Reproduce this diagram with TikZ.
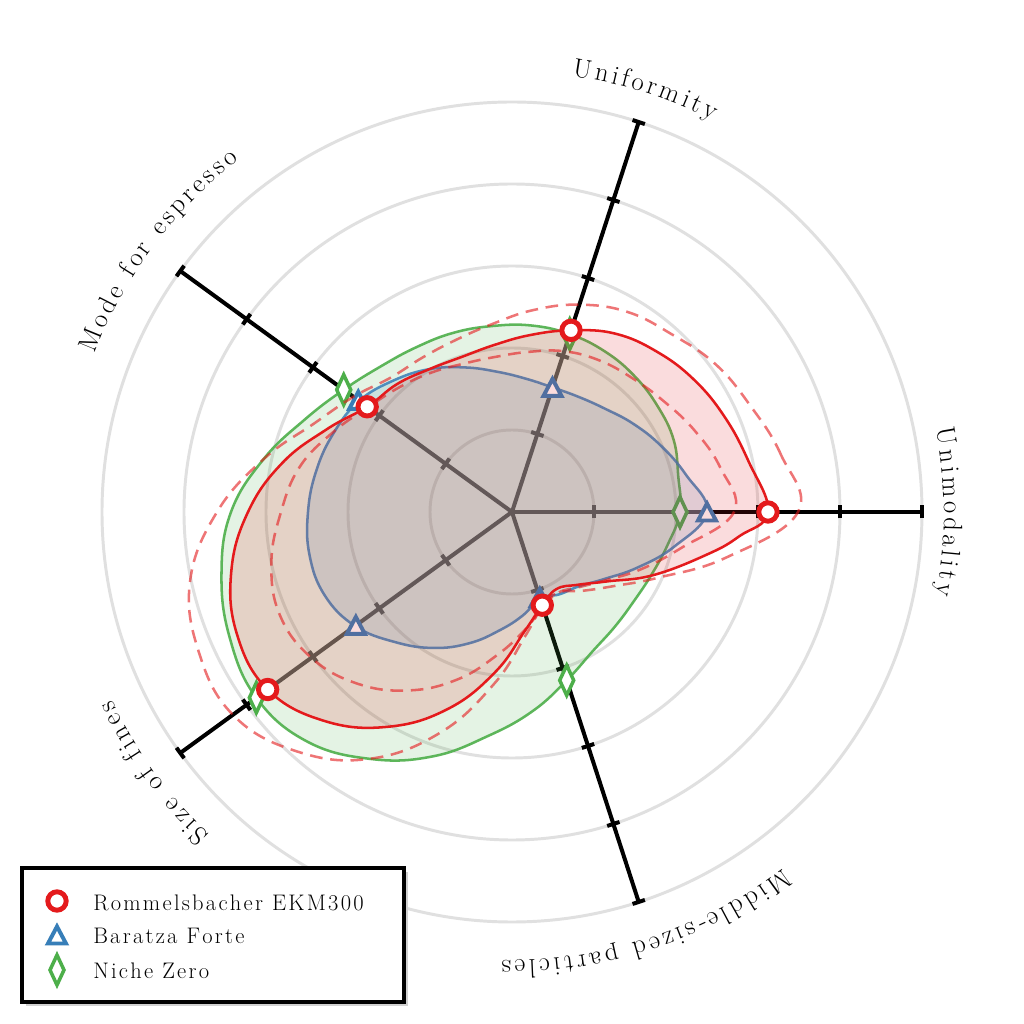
\documentclass[tikz,border=0pt]{standalone}
\usepackage{fontspec}
\definecolor{cred}{HTML}{E41A1C}
\definecolor{cblue}{HTML}{377EB8}
\definecolor{cgreen}{HTML}{4DAF4A}
\definecolor{axgray}{RGB}{82,83,88}
\newcommand\labfont{\fontsize{19}{22}\selectfont}
\newcommand\legfont{\fontsize{16}{19}\selectfont}
\makeatletter
\def\trkamt{1.6pt}
\def\trk#1{\trk@#1\@nil}
\def\trk@#1{\ifx\@nil#1\else#1\kern\trkamt\expandafter\trk@\fi}
\makeatother
\newdimen\arcw
\newdimen\arcpos
\newdimen\arctot
\newcommand\arclabel[5]{% #1 name, #2 centre angle, #3 baseline radius (px), #4 tracking (pt), #5 characters
  \global\arctot=0pt
  \foreach \lch in {#5}{\pgfinterruptpicture\setbox0=\hbox{\labfont\lch}\global\advance\arctot by \wd0\relax\endpgfinterruptpicture\global\advance\arctot by #4pt}%
  \global\advance\arctot by -#4pt
  \global\arcpos=0pt
  \foreach \lch [count=\lnum] in {#5}{%
    \pgfinterruptpicture\setbox0=\hbox{\labfont\lch}\global\arcw=\wd0\relax\endpgfinterruptpicture
    \pgfmathsetmacro\lang{#2+(0.5*\the\arctot-\the\arcpos-0.5*\the\arcw)/(#3*0.711317)*57.29578}%
    \node[font=\labfont, anchor=base, inner sep=0pt, rotate=\lang-90] (#1\lnum) at (\lang:#3) {\lch};%
    \global\advance\arcpos by \arcw
    \global\advance\arcpos by #4pt
  }%
}
\tikzset{
  gridring/.style={draw=black!12, line width=2.1pt},
  axisline/.style={line width=2.85pt},
  curveline/.style={line width=1.8pt},
  bandline/.style={draw=cred, draw opacity=0.6, line width=1.8pt, dash pattern=on 9pt off 5.5pt},
  redmark/.pic={\draw[cred, fill=white, line width=3.5pt] (0,0) circle[radius=9.2];},
  bluemark/.pic={\draw[cblue, fill=white, line width=2.8pt] (0,8.5) -- (-9,-8.5) -- (9,-8.5) -- cycle;},
  greenmark/.pic={\draw[cgreen, fill=white, line width=2.5pt] (0,15) -- (7,0) -- (0,-15) -- (-7,0) -- cycle;},
}
\begin{document}
\begin{tikzpicture}[x=0.25mm,y=0.25mm]
\useasboundingbox (-512,-512) rectangle (512,512);
\fill[white] (-512,-512) rectangle (512,512);
\coordinate (O) at (0,0);
% grid rings
\foreach \r in {82,164,246,328,410} \draw[gridring] (O) circle[radius=\r];
% axes
\foreach \a/\e [count=\i] in {0/195,72/187,144/190,216/302,288/98} {
  \coordinate (ax\i) at (\a:410);
  \coordinate (ex\i) at (\a:\e);
  \draw[axisline, draw=axgray] (O) -- (ex\i);
  \draw[axisline, draw=black] (ex\i) -- (ax\i);
  \foreach \r in {82,164,246,328,410} {
    \ifnum\r<\e\relax\def\tcol{axgray}\else\def\tcol{black}\fi
    \draw[axisline, draw=\tcol, rotate=\a] (\r,-6.5) -- (\r,6.5);
  }
}
% Niche Zero (green)
\path[fill=cgreen, fill opacity=0.15, draw=cgreen, draw opacity=0.9, curveline]
 plot[smooth cycle, tension=0.7] coordinates {(0:168) (12:170) (24:177) (36:180) (48:183) (60:185.5) (72:187) (84:187.5) (96:187) (108:188.5) (120:190.5) (132:196) (144:208) (156:227) (168:254) (180:281) (192:297) (204:309) (216:316) (228:308) (240:285) (252:257) (264:225) (276:200) (288:177) (300:161) (312:154) (324:151) (336:153) (348:159)};
\foreach \p in {(0:168),(72:187),(144:208),(216:316),(288:177)} \pic at \p {greenmark};
% Baratza Forte (blue)
\path[fill=cblue, fill opacity=0.15, draw=cblue, draw opacity=0.85, curveline]
 plot[smooth cycle, tension=0.7] coordinates {(0:195) (12:178) (24:163) (36:150) (48:139) (60:133) (72:131) (84:134) (96:141) (108:152) (120:165) (132:177) (144:189) (156:195) (168:200) (180:204) (192:207) (204:205) (216:194) (228:175) (240:157) (252:138) (264:119) (276:104) (288:91) (300:95) (312:100) (324:114) (336:137) (348:166)};
\foreach \p in {(0:195),(72:131),(144:190),(216:193),(288:90)} \pic at \p {bluemark};
% Rommelsbacher (red)
\path[fill=cred, fill opacity=0.15]
 plot[smooth cycle, tension=0.7] coordinates {(0:256) (12:242) (24:233) (36:225) (48:216) (60:206) (72:191) (84:178) (96:168) (108:163) (120:165) (132:172) (144:179) (156:203) (168:235) (180:264) (192:287) (204:301) (216:302) (228:281) (240:248) (252:207) (264:161) (276:120) (288:98) (300:89) (312:98) (324:118) (336:155) (348:201) (354:229)};
\draw[bandline] plot[smooth cycle, tension=0.7] coordinates {(0:286) (12:275) (24:261) (36:251.5) (48:239) (60:231) (72:218) (84:203) (96:189) (108:181) (120:178.5) (132:181) (144:196) (156:217) (168:254) (180:295) (192:329) (204:343) (216:345) (228:322) (240:285) (252:232) (264:173) (276:125) (288:99) (300:93) (312:106) (324:126) (336:161) (348:219)};
\draw[bandline] plot[smooth cycle, tension=0.7] coordinates {(0:222) (12:213) (24:200) (36:188) (48:180) (60:175) (72:169) (84:161) (96:156) (108:156) (120:161) (132:168) (144:178) (156:196) (168:217) (180:231) (192:246) (204:254) (216:248) (228:231) (240:206) (252:176) (264:144) (276:119) (288:100) (300:93) (312:101) (324:116) (336:141) (348:173)};
\draw[cred, curveline]
 plot[smooth cycle, tension=0.7] coordinates {(0:256) (12:242) (24:233) (36:225) (48:216) (60:206) (72:191) (84:178) (96:168) (108:163) (120:165) (132:172) (144:179) (156:203) (168:235) (180:264) (192:287) (204:301) (216:302) (228:281) (240:248) (252:207) (264:161) (276:120) (288:98) (300:89) (312:98) (324:118) (336:155) (348:201) (354:229)};
\foreach \p in {(0:256),(72:191),(144:179),(216:302),(288:98)} \pic at \p {redmark};
% axis labels, set along arcs
\arclabel{lu}{0}{432}{2.4}{U,n,i,m,o,d,a,l,i,t,y}
\arclabel{lf}{72.5}{440}{2.4}{U,n,i,f,o,r,m,i,t,y}
\arclabel{lm}{143.5}{446}{2.4}{M,o,d,e,\ ,f,o,r,\ ,e,s,p,r,e,s,s,o}
\arclabel{ls}{216}{442}{2.4}{S,i,z,e,\ ,o,f,\ ,f,i,n,e,s}
\arclabel{lp}{288}{448}{2.4}{M,i,d,d,l,e,-,s,i,z,e,d,\ ,p,a,r,t,i,c,l,e,s}
% legend
\fill[black!18] (-486,-360) rectangle (-104,-494);
\draw[line width=2.3pt, fill=white] (-490,-356) rectangle (-108,-490);
\pic at (-455,-389) {redmark};
\pic at (-455,-423) {bluemark};
\pic at (-455,-458) {greenmark};
\node[anchor=base west, inner sep=0pt, font=\legfont] (l1) at (-419,-398) {\trk{Rommelsbacher}\ \trk{EKM300}};
\node[anchor=base west, inner sep=0pt, font=\legfont] (l2) at (-419,-431.3) {\trk{Baratza}\ \trk{Forte}};
\node[anchor=base west, inner sep=0pt, font=\legfont] (l3) at (-419,-466) {\trk{Niche}\ \trk{Zero}};
\end{tikzpicture}
\end{document}
